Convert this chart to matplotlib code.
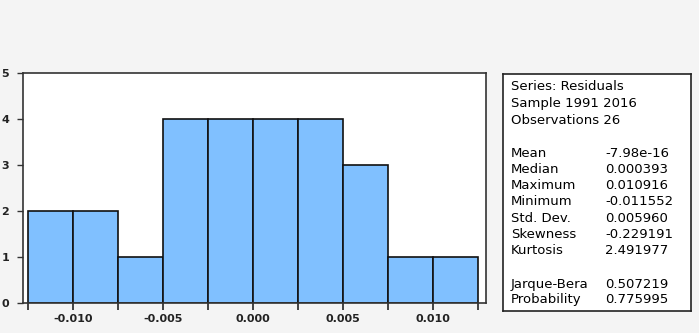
import matplotlib
matplotlib.use("Agg")
import matplotlib.pyplot as plt
import numpy as np

# histogram of residuals (bin edges + counts)
bin_edges = [-0.0125, -0.0100, -0.0075, -0.0050, -0.0025, 0.0000,
             0.0025, 0.0050, 0.0075, 0.0100, 0.0125]
counts = [2, 2, 1, 4, 4, 4, 4, 3, 1, 1]
xtick_vals = [-0.010, -0.005, 0.000, 0.005, 0.010]
xtick_labels = ["-0.010", "-0.005", "0.000", "0.005", "0.010"]

# stats panel
header_lines = ["Series: Residuals", "Sample 1991 2016", "Observations 26"]
stat_names = ["Mean", "Median", "Maximum", "Minimum", "Std. Dev.",
              "Skewness", "Kurtosis"]
stat_values = ["-7.98e-16", "0.000393", "0.010916", "-0.011552",
               "0.005960", "-0.229191", "2.491977"]
test_names = ["Jarque-Bera", "Probability"]
test_values = ["0.507219", "0.775995"]

plt.rcParams['font.family'] = ['DejaVu Sans']

W, H = 699, 333
fig = plt.figure(figsize=(W / 100, H / 100), dpi=100)
fig.patch.set_facecolor("#f4f4f4")

ax = fig.add_axes([23 / W, 1 - 303 / H, (486 - 23) / W, (303 - 73) / H])
ax.set_facecolor("white")

lefts = np.array(bin_edges[:-1])
widths = np.diff(bin_edges)
ax.bar(lefts, counts, width=widths, align='edge', color="#80c0ff",
       edgecolor="#111111", linewidth=1.2, zorder=2)

ax.set_xlim(-0.01278, 0.01294)
ax.set_ylim(0, 5)
ax.set_yticks(range(6))
ax.set_xticks(bin_edges, minor=True)
ax.set_xticks(xtick_vals)
ax.set_xticklabels(xtick_labels, fontsize=8, fontweight='bold', color="#222222")
ax.set_yticklabels([str(i) for i in range(6)], fontsize=8, fontweight='bold',
                   color="#222222")
ax.tick_params(axis='x', which='both', direction='out', length=5, width=1.1,
               color="#111111", pad=3)
ax.tick_params(axis='x', which='minor', labelbottom=False)
ax.tick_params(axis='y', direction='out', length=4, width=1.0, color="#333333",
               pad=6)
for s in ax.spines.values():
    s.set_color("#333333")
    s.set_linewidth(1.2)

# stats box
bx = fig.add_axes([503 / W, 1 - 311 / H, (691 - 503) / W, (311 - 74) / H])
bx.set_facecolor("white")
bx.set_xticks([])
bx.set_yticks([])
for s in bx.spines.values():
    s.set_color("#222222")
    s.set_linewidth(1.2)

fs = 9.5
x_lab = 511 / W
x_val = 605 / W


def put(y_mid, txt, x):
    # y_mid = pixel row of the capital-letter middle, text placed on baseline
    fig.text(x, 1 - (y_mid + 4.7) / H, txt, fontsize=fs, va='baseline', ha='left')


for i, t in enumerate(header_lines):
    put(85 + i * 17, t, x_lab)
for i, (n, v) in enumerate(zip(stat_names, stat_values)):
    put(152 + i * 16.2, n, x_lab)
    put(152 + i * 16.2, v, x_val)
for i, (n, v) in enumerate(zip(test_names, test_values)):
    put(283 + i * 15, n, x_lab)
    put(283 + i * 15, v, x_val)

fig.savefig("out.png", dpi=100, facecolor=fig.get_facecolor())
